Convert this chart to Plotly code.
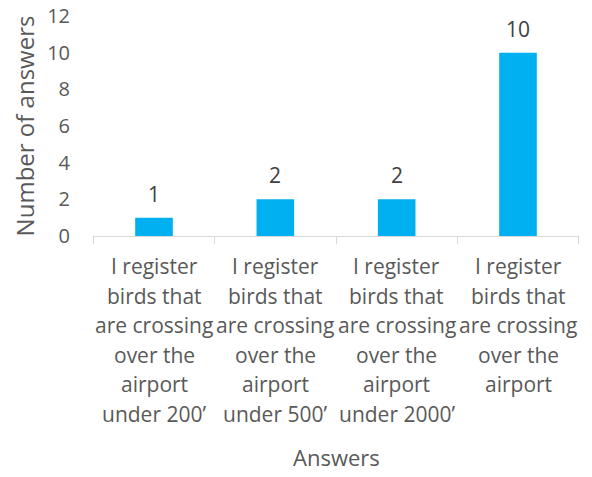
import plotly.graph_objects as go

categories = [
    "I register<br>birds that<br>are crossing<br>over the<br>airport<br>under 200’",
    "I register<br>birds that<br>are crossing<br>over the<br>airport<br>under 500’",
    "I register<br>birds that<br>are crossing<br>over the<br>airport<br>under 2000’",
    "I register<br>birds that<br>are crossing<br>over the<br>airport",
]
values = [1, 2, 2, 10]
y_ticks = [0, 2, 4, 6, 8, 10, 12]

FONT = "Open Sans"

fig = go.Figure(
    go.Bar(
        x=categories,
        y=values,
        marker=dict(color="#00B0F0", line=dict(width=0)),
        cliponaxis=False,
    )
)

# data labels above bars
for c, v in zip(categories, values):
    fig.add_annotation(
        x=c, y=v, xref="x", yref="y",
        text=str(v), showarrow=False,
        yanchor="bottom", yshift=8,
        font=dict(family=FONT, size=21, color="#404040"),
    )

# category labels, one annotation per line for Excel-like line spacing
for c in categories:
    for j, line in enumerate(c.split("<br>")):
        fig.add_annotation(
            x=c, y=0, xref="x", yref="paper",
            text=line, showarrow=False,
            yanchor="middle", yshift=-(30 + j * 29.5),
            font=dict(family=FONT, size=21, color="#595959"),
        )

# page body has an 8px margin, so offset figure size/margins accordingly
fig.update_layout(
    width=584,
    height=469,
    margin=dict(l=85, r=13, t=8, b=241),
    paper_bgcolor="white",
    plot_bgcolor="white",
    bargap=0.69,
    showlegend=False,
    font=dict(family=FONT, color="#595959"),
)

fig.update_xaxes(
    showline=True,
    linecolor="#D9D9D9",
    linewidth=1,
    ticks="outside",
    tickson="boundaries",
    ticklen=7,
    tickcolor="#D9D9D9",
    showticklabels=False,
    automargin=False,
    showgrid=False,
)

fig.add_annotation(
    x=0.5, y=0, xref="paper", yref="paper",
    text="Answers", showarrow=False,
    yanchor="middle", yshift=-221,
    font=dict(family=FONT, size=22, color="#595959"),
)

fig.update_yaxes(
    range=[0, 12],
    tickvals=y_ticks,
    showgrid=False,
    showline=False,
    zeroline=False,
    ticks="",
    automargin=False,
    ticklabeloverflow="allow",
    ticklabelstandoff=22,
    tickfont=dict(family=FONT, size=20, color="#595959"),
    title=dict(text="Number of answers", font=dict(family=FONT, size=24, color="#595959"), standoff=12),
)

fig.write_html("out.html")
